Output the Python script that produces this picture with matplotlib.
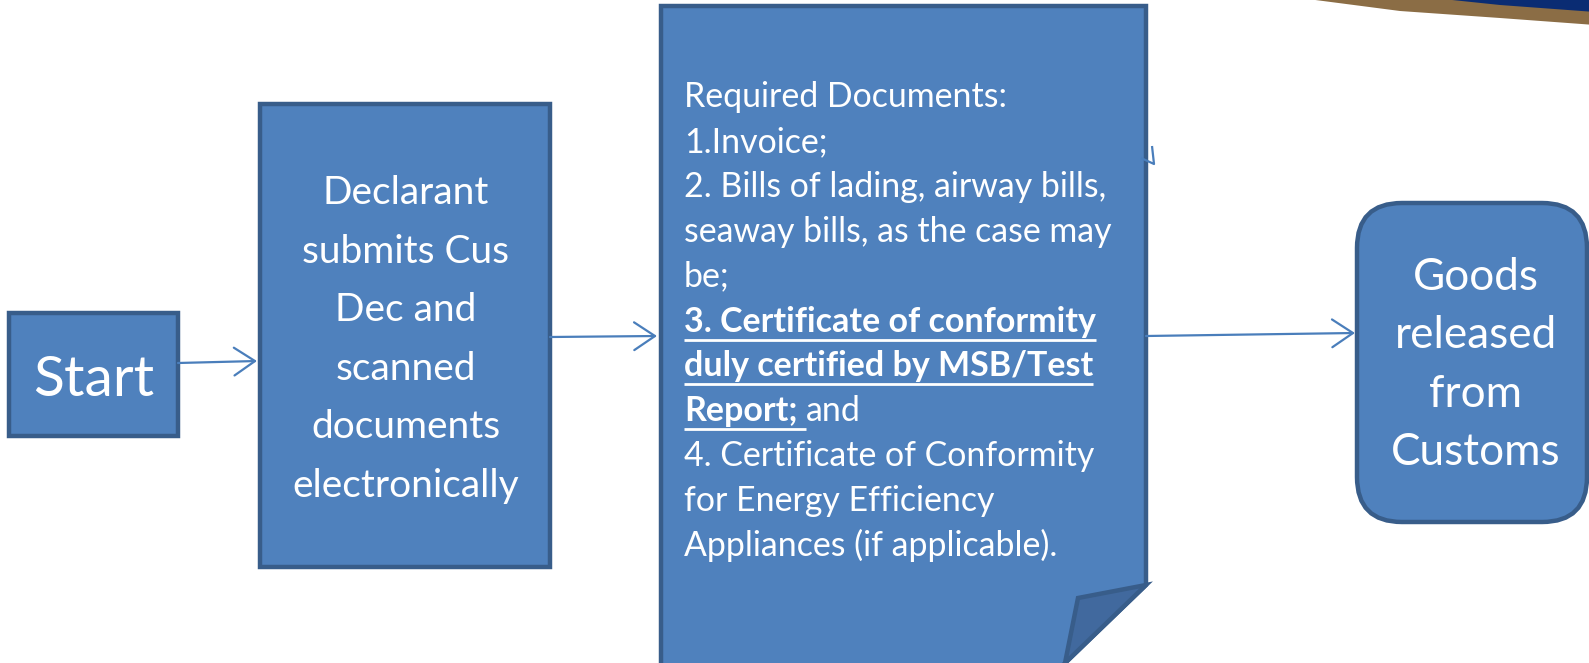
import matplotlib
matplotlib.use("Agg")
import matplotlib.pyplot as plt
from matplotlib.patches import Polygon, Rectangle, FancyBboxPatch

W, H = 1589, 663
FILL = "#4F81BD"
EDGE = "#385D8A"
FOLD = "#41699E"
ARROW = "#4A7EBB"
FONT = "Lato"

start_label = "Start"
declarant_lines = ["Declarant", "submits Cus", "Dec and", "scanned",
                   "documents", "electronically"]
# each line: list of (text, bold_underlined)
required_lines = [
    [("Required Documents:", False)],
    [("1.Invoice;", False)],
    [("2. Bills of lading, airway bills,", False)],
    [("seaway bills, as the case may", False)],
    [("be;", False)],
    [("3. Certificate of conformity", True)],
    [("duly certified by MSB/Test", True)],
    [("Report;", True), ("and", False)],
    [("4. Certificate of Conformity", False)],
    [("for Energy Efficiency", False)],
    [("Appliances (if applicable).", False)],
]
goods_lines = ["Goods", "released", "from", "Customs"]

fig = plt.figure(figsize=(W / 100, H / 100), dpi=100)
ax = fig.add_axes([0, 0, 1, 1])
ax.set_xlim(0, W)
ax.set_ylim(H, 0)
ax.axis("off")
renderer = fig.canvas.get_renderer()


def text_width(s, size, weight="normal"):
    t = ax.text(0, 0, s, fontsize=size, family=FONT, weight=weight)
    w = t.get_window_extent(renderer).width
    t.remove()
    return w


def fit_size(s, target, weight="normal"):
    return 20 * target / text_width(s, 20, weight)


# decorative swoosh in the top right corner
ax.add_patch(Polygon([(1300, -2), (1400, 11), (1500, 18), (1595, 25),
                      (1595, -5), (1300, -5)], closed=True,
                     facecolor="#8B6D45", edgecolor="none"))
ax.add_patch(Polygon([(1433, -2), (1500, 5), (1595, 12), (1595, -5)],
                     closed=True, facecolor="#0A2C73", edgecolor="none"))

lw = 3.2
# boxes
ax.add_patch(Rectangle((9, 313), 169, 123, facecolor=FILL, edgecolor=EDGE, lw=lw))
ax.add_patch(Rectangle((260, 104), 290, 463, facecolor=FILL, edgecolor=EDGE, lw=lw))
ax.add_patch(Polygon([(661, 6), (1146, 6), (1146, 585), (1060, 668), (661, 668)],
                     closed=True, facecolor=FILL, edgecolor=EDGE, lw=lw,
                     joinstyle="miter"))
ax.add_patch(Polygon([(1078, 598), (1146, 585), (1065, 663)], closed=True,
                     facecolor=FOLD, edgecolor=EDGE, lw=lw, joinstyle="miter"))
ax.add_patch(FancyBboxPatch((1357, 203), 230, 319,
                            boxstyle="round,pad=0,rounding_size=45",
                            facecolor=FILL, edgecolor=EDGE, lw=lw))

# connectors
astyle = dict(arrowstyle="->,head_length=0.6,head_width=0.4", color=ARROW,
              lw=1.6, mutation_scale=25, shrinkA=0, shrinkB=0)
for (x0, y0), (x1, y1) in [((178, 363), (257, 361)),
                           ((550, 337), (657, 336)),
                           ((1146, 336), (1355, 333))]:
    ax.annotate("", xy=(x1, y1), xytext=(x0, y0), arrowprops=astyle)
ax.plot([1152, 1154, 1141], [146, 164, 158], color=ARROW, lw=1.6,
        solid_capstyle="butt")

# Start
fs = fit_size(start_label, 121)
ax.text(93.5, 396, start_label, fontsize=fs, family=FONT, color="white",
        ha="center", va="baseline")

# Declarant box
fs = fit_size("electronically", 227)
for i, s in enumerate(declarant_lines):
    ax.text(405.5, 204 + 58.6 * i, s, fontsize=fs, family=FONT, color="white",
            ha="center", va="baseline")

# Goods box
fs = fit_size("released", 163)
for i, s in enumerate(goods_lines):
    ax.text(1475.5, 290 + 58.4 * i, s, fontsize=fs, family=FONT, color="white",
            ha="center", va="baseline")

# Required documents
fs_r = fit_size("Required Documents:", 324)
fs_b = fit_size("3. Certificate of conformity", 412, "bold")
space = fs_r * 100 / 72 * 0.25
for i, parts in enumerate(required_lines):
    y = 107 + 44.9 * i
    x = 684
    for j, (s, strong) in enumerate(parts):
        last = j == len(parts) - 1
        if strong:
            w = text_width(s, fs_b, "bold")
            ax.text(x, y, s, fontsize=fs_b, family=FONT, weight="bold",
                    color="white", va="baseline")
            w_ul = w if last else w + space
            ax.plot([x, x + w_ul], [y + 8, y + 8], color="white", lw=2.0,
                    solid_capstyle="butt")
            x += w + space
        else:
            ax.text(x, y, s, fontsize=fs_r, family=FONT, color="white",
                    va="baseline")
            x += text_width(s, fs_r) + space

fig.savefig("out.png", dpi=100)
